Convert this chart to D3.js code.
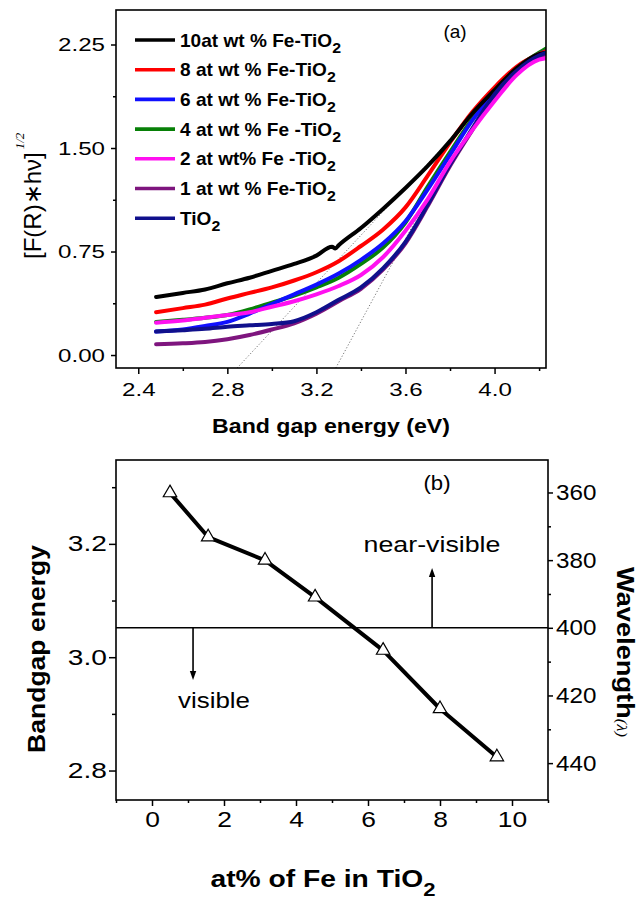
<!DOCTYPE html>
<html><head><meta charset="utf-8">
<script src="https://cdn.jsdelivr.net/npm/d3@7"></script>
<style>body{margin:0;background:#fff} svg{display:block}</style>
</head><body><svg id="c" width="642" height="908"></svg>
<script>
// ---------- Data: panel (a) ----------
const energy = [2.48,2.6,2.7,2.8,2.9,3.0,3.1,3.2,3.3,3.4,3.5,3.6,3.7,3.8,3.9,4.0,4.1,4.2,4.23];
const energy10 = [2.48,2.6,2.7,2.8,2.9,3.0,3.1,3.2,3.27,3.285,3.3,3.4,3.5,3.6,3.7,3.8,3.9,4.0,4.1,4.2,4.23];
const fe10 = [0.42,0.45,0.475,0.52,0.56,0.61,0.66,0.72,0.785,0.772,0.795,0.92,1.06,1.21,1.37,1.55,1.75,1.92,2.08,2.18,2.19];
const fe8  = [0.31,0.34,0.365,0.41,0.45,0.49,0.54,0.60,0.68,0.79,0.91,1.07,1.30,1.54,1.76,1.94,2.09,2.18,2.20];
const fe6  = [0.17,0.185,0.21,0.24,0.30,0.37,0.44,0.51,0.59,0.69,0.81,0.97,1.20,1.45,1.70,1.90,2.07,2.18,2.20];
const fe4  = [0.24,0.255,0.27,0.29,0.33,0.38,0.43,0.49,0.56,0.66,0.78,0.96,1.22,1.47,1.71,1.91,2.08,2.19,2.22];
const fe2  = [0.234,0.25,0.27,0.29,0.31,0.35,0.39,0.44,0.50,0.58,0.71,0.90,1.13,1.40,1.63,1.84,2.03,2.14,2.15];
const fe1  = [0.078,0.085,0.095,0.115,0.145,0.185,0.23,0.30,0.39,0.48,0.62,0.81,1.08,1.37,1.63,1.88,2.05,2.16,2.18];
const tio2 = [0.17,0.18,0.19,0.205,0.215,0.225,0.245,0.31,0.40,0.49,0.63,0.82,1.09,1.38,1.64,1.89,2.06,2.17,2.19];
const legendLabels = ["10at wt % Fe-TiO","8 at wt % Fe-TiO","6 at wt % Fe-TiO","4 at wt % Fe -TiO","2 at wt% Fe -TiO","1 at wt % Fe-TiO","TiO"];
const seriesColors = ["#000000","#ff0000","#1010ff","#078007","#ff10f0","#7e157e","#10108c"];
const tangentA = {e:[2.844,3.80], v:[-0.094,1.56]};
const tangentB = {e:[3.287,3.70], v:[-0.094,1.14]};
const xTicksA = [2.4,2.8,3.2,3.6,4.0], xMinorA = [2.6,3.0,3.4,3.8,4.2];
const yTicksA = [0,0.75,1.5,2.25], yMinorA = [0.375,1.125,1.875];

// ---------- Data: panel (b) ----------
const feAt = [0.5,1.56,3.14,4.53,6.42,8.0,9.58];
const bandgap = [3.290,3.212,3.171,3.106,3.012,2.909,2.824];
const xTicksB = [0,2,4,6,8,10], xMinorB = [-1,1,3,5,7,9,11];
const yTicksB = [2.8,3.0,3.2], yMinorB = [2.9,3.1,3.3];
const wTicks = [360,380,400,420,440], wMinor = [370,390,410,430];
const visibleLimit = 400;

const font = '"Liberation Sans", Arial, sans-serif';
const svg = d3.select("#c");

function stretchTicks(sel, f){
  sel.each(function(){
    const t = d3.select(this);
    const x = +t.attr("x") || 0;
    t.attr("x",0).attr("transform",`translate(${x},0) scale(${f},1)`);
  });
}
function fitText(t, x, y, rot, target){
  const w = t.node().getComputedTextLength();
  const sx = target ? target / w : 1;
  t.attr("transform",`translate(${x},${y}) rotate(${rot}) scale(${sx},1)`);
}
function styleAxis(g, fs, f){
  g.select(".domain").remove();
  g.selectAll("line").attr("stroke","#000").attr("stroke-width",1.5);
  const tx = g.selectAll("text").attr("font-size",fs).attr("font-family",font).attr("fill","#000");
  if (f) stretchTicks(tx, f);
}

// ================= Panel (a) =================
const xA = d3.scaleLinear().domain([2.3,4.231]).range([116,546]);
const yA = d3.scaleLinear().domain([-0.094,2.5]).range([368,10]);

svg.append("defs").append("clipPath").attr("id","clipA")
  .append("rect").attr("x",116).attr("y",10).attr("width",430).attr("height",358);

const gA = svg.append("g").attr("clip-path","url(#clipA)");
const lineA = d3.line().x(d=>xA(d[0])).y(d=>yA(d[1])).curve(d3.curveMonotoneX);

// tangents (dotted)
[tangentA, tangentB].forEach(t=>{
  gA.append("path").attr("d", d3.line().x(d=>xA(d[0])).y(d=>yA(d[1]))(t.e.map((e,i)=>[e,t.v[i]])))
    .attr("fill","none").attr("stroke","#777").attr("stroke-width",1).attr("stroke-dasharray","1.2,2");
});

const seriesVals = [fe10, fe8, fe6, fe4, fe2, fe1, tio2];
const drawOrder = [3,2,1,0,5,6,4];
drawOrder.forEach(i=>{
  const xs = i===0 ? energy10 : energy;
  gA.append("path").attr("d", lineA(xs.map((e,j)=>[e, seriesVals[i][j]])))
    .attr("fill","none").attr("stroke",seriesColors[i]).attr("stroke-width",4)
    .attr("stroke-linejoin","round").attr("stroke-linecap","round");
});

// frame
svg.append("rect").attr("x",116).attr("y",10).attr("width",430).attr("height",358)
  .attr("fill","none").attr("stroke","#000").attr("stroke-width",1.6);

// axes
let g = svg.append("g").attr("transform","translate(0,368)")
  .call(d3.axisBottom(xA).tickValues(xTicksA).tickFormat(d3.format(".1f")).tickSize(6).tickPadding(9));
styleAxis(g, 19, 1.27);
g = svg.append("g").attr("transform","translate(0,368)")
  .call(d3.axisBottom(xA).tickValues(xMinorA).tickFormat("").tickSize(3));
styleAxis(g, 19);
g = svg.append("g").attr("transform","translate(116,0)")
  .call(d3.axisLeft(yA).tickValues(yTicksA).tickFormat(d3.format(".2f")).tickSize(5).tickPadding(6));
styleAxis(g, 19, 1.27);
g = svg.append("g").attr("transform","translate(116,0)")
  .call(d3.axisLeft(yA).tickValues(yMinorA).tickFormat("").tickSize(3));
styleAxis(g, 19);

// legend
const legend = svg.append("g");
legendLabels.forEach((lab,i)=>{
  const y = 40 + i*29.7;
  legend.append("line").attr("x1",135).attr("x2",175).attr("y1",y).attr("y2",y)
    .attr("stroke",seriesColors[i]).attr("stroke-width",3.6);
  const t = legend.append("text").attr("font-family",font).attr("font-weight","bold").attr("font-size",18);
  t.append("tspan").text(lab);
  t.append("tspan").attr("dy",6).attr("font-size",15).text("2");
  t.attr("transform",`translate(180,${y+6.5}) scale(1.06,1)`);
});

svg.append("text").attr("x",455).attr("y",38).attr("text-anchor","middle")
  .attr("font-family",font).attr("font-size",19).text("(a)");

// axis titles panel a
let t = svg.append("text").attr("font-family",font).attr("font-weight","bold").attr("font-size",21)
  .attr("text-anchor","middle").text("Band gap energy (eV)");
fitText(t, 331, 433, 0, 238);

t = svg.append("text").attr("font-family",font).attr("font-size",24);
t.append("tspan").text("[F(R)\u2217h\u03bd]");
t.append("tspan").attr("dy",-17).attr("dx",3).attr("font-size",13)
  .attr("font-family",'"Liberation Serif", serif').attr("font-style","italic").text("1/2");
t.attr("transform","translate(41,259) rotate(-90)");

// ================= Panel (b) =================
const xB = d3.scaleLinear().domain([-1,11]).range([116,548]);
const yB = d3.scaleLinear().domain([2.748,3.348]).range([800,460]);
const wB = d3.scaleLinear().domain([350.4,450.9]).range([460,800]);

svg.append("rect").attr("x",116).attr("y",460).attr("width",432).attr("height",340)
  .attr("fill","none").attr("stroke","#000").attr("stroke-width",1.6);

// 400 nm line
svg.append("line").attr("x1",xB(-1)).attr("x2",xB(11)).attr("y1",wB(visibleLimit)).attr("y2",wB(visibleLimit))
  .attr("stroke","#000").attr("stroke-width",1.6);

// arrows
function arrow(xv, w0, w1){
  const x = xB(xv), y0 = wB(w0), y1 = wB(w1);
  const dir = y1 > y0 ? 1 : -1;
  const hl = 9, hw = 3.2;
  svg.append("line").attr("x1",x).attr("x2",x).attr("y1",y0).attr("y2",y1 - dir*hl)
    .attr("stroke","#000").attr("stroke-width",1.6);
  svg.append("path").attr("d",`M${x},${y1} L${x-hw},${y1-dir*hl} L${x+hw},${y1-dir*hl} Z`).attr("fill","#000");
}
arrow(1.14, 400, 415.4);
arrow(7.78, 400, 382.3);

t = svg.append("text").attr("font-family",font).attr("font-size",22).attr("text-anchor","middle").text("visible");
fitText(t, 214, 708, 0, 72);
t = svg.append("text").attr("font-family",font).attr("font-size",22).attr("text-anchor","middle").text("near-visible");
fitText(t, 432, 552, 0, 137);
t = svg.append("text").attr("font-family",font).attr("font-size",20).attr("text-anchor","middle").text("(b)");
fitText(t, 437, 490, 0, 27);

// data line + markers
const pts = feAt.map((v,i)=>[v,bandgap[i]]);
svg.append("path").attr("d", d3.line().x(d=>xB(d[0])).y(d=>yB(d[1]))(pts))
  .attr("fill","none").attr("stroke","#000").attr("stroke-width",4).attr("stroke-linejoin","round");
svg.selectAll(".tri").data(pts).join("path").attr("class","tri")
  .attr("d", d3.symbol(d3.symbolTriangle, 78)())
  .attr("transform", d=>`translate(${xB(d[0])},${yB(d[1])})`)
  .attr("fill","#fff").attr("stroke","#000").attr("stroke-width",1.2);

// axes b
g = svg.append("g").attr("transform","translate(0,800)")
  .call(d3.axisBottom(xB).tickValues(xTicksB).tickFormat(d3.format("d")).tickSize(6).tickPadding(5));
styleAxis(g, 22, 1.2);
g = svg.append("g").attr("transform","translate(0,800)")
  .call(d3.axisBottom(xB).tickValues(xMinorB).tickFormat("").tickSize(3));
styleAxis(g, 22);
g = svg.append("g").attr("transform","translate(116,0)")
  .call(d3.axisLeft(yB).tickValues(yTicksB).tickFormat(d3.format(".1f")).tickSize(7).tickPadding(2));
styleAxis(g, 22, 1.28);
g = svg.append("g").attr("transform","translate(116,0)")
  .call(d3.axisLeft(yB).tickValues(yMinorB).tickFormat("").tickSize(4));
styleAxis(g, 22);
g = svg.append("g").attr("transform","translate(548,0)")
  .call(d3.axisRight(wB).tickValues(wTicks).tickFormat(d3.format("d")).tickSize(5).tickPadding(3));
styleAxis(g, 22, 1.1);
g = svg.append("g").attr("transform","translate(548,0)")
  .call(d3.axisRight(wB).tickValues(wMinor).tickFormat("").tickSize(3));
styleAxis(g, 22);

// titles b
t = svg.append("text").attr("font-family",font).attr("font-weight","bold").attr("font-size",23).attr("text-anchor","middle");
t.append("tspan").text("at% of Fe in TiO");
t.append("tspan").attr("dy",9).attr("font-size",18).text("2");
fitText(t, 323, 887, 0, 225);

t = svg.append("text").attr("font-family",font).attr("font-weight","bold").attr("font-size",23)
  .attr("text-anchor","middle").text("Bandgap energy");
fitText(t, 45, 649, -90, 208);

t = svg.append("text").attr("font-family",font).attr("font-size",23).attr("text-anchor","middle");
t.append("tspan").attr("font-weight","bold").text("Wavelength");
t.append("tspan").attr("font-size",14).attr("font-family",'"Liberation Serif", serif').attr("font-style","italic").text("(\u03bb)");
fitText(t, 617, 652, 90, 170);
</script>
</body></html>
